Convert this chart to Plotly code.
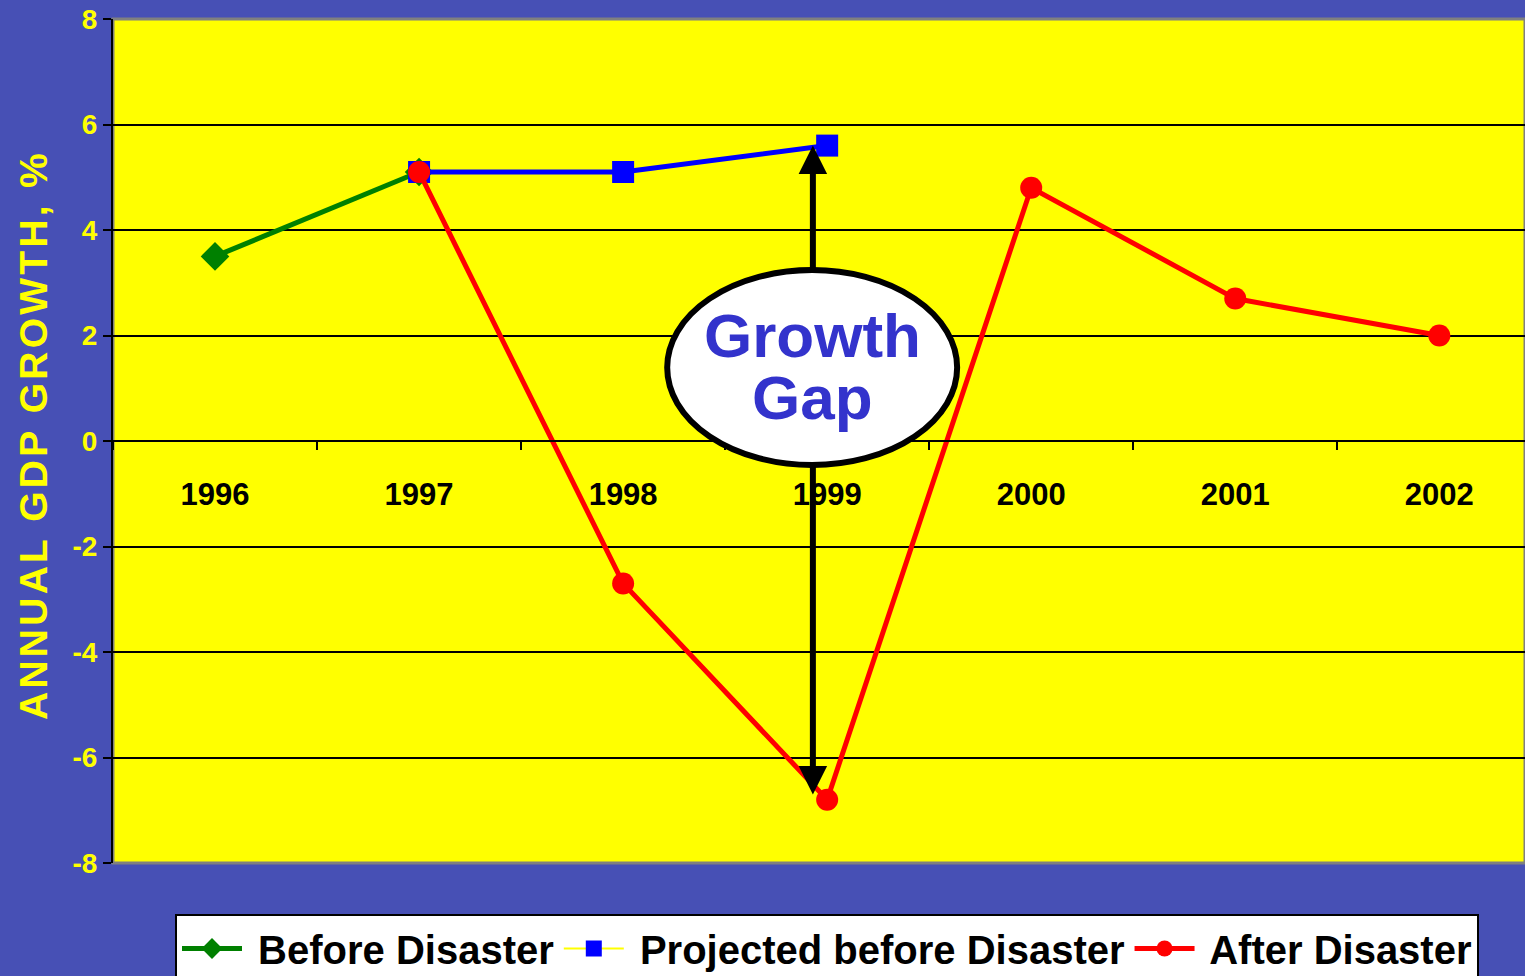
import plotly.graph_objects as go

years = ["1996", "1997", "1998", "1999", "2000", "2001", "2002"]
before_x = ["1996", "1997"]
before_y = [3.5, 5.1]
proj_x = ["1997", "1998", "1999"]
proj_y = [5.1, 5.1, 5.6]
after_x = ["1997", "1998", "1999", "2000", "2001", "2002"]
after_y = [5.1, -2.7, -6.8, 4.8, 2.7, 2.0]
y_ticks = [-8, -6, -4, -2, 0, 2, 4, 6, 8]

BG = "#4750B5"
ARIAL = "Arial, Liberation Sans"
LEG_FONT = dict(family=ARIAL, size=40, color="black", weight="bold")

# ellipse extent in data units
ell_x0, ell_x1, ell_y0, ell_y1 = 2.216, 3.637, -0.455, 3.24
gap_x = 2.93

fig = go.Figure()
fig.add_trace(go.Scatter(x=before_x, y=before_y, mode="lines+markers", name=" Before Disaster",
                         line=dict(color="#008000", width=5),
                         marker=dict(symbol="diamond", size=22, color="#008000")))
fig.add_trace(go.Scatter(x=proj_x, y=proj_y, mode="lines+markers", name=" Projected before Disaster",
                         line=dict(color="#0000FF", width=5), showlegend=False,
                         marker=dict(symbol="square", size=22, color="#0000FF")))
# legend proxy for projected series (legend shows yellow line with blue square)
fig.add_trace(go.Scatter(x=[None], y=[None], mode="lines+markers", name=" Projected before Disaster",
                         line=dict(color="#FFFF00", width=2),
                         marker=dict(symbol="square", size=22, color="#0000FF")))
fig.add_trace(go.Scatter(x=after_x, y=after_y, mode="lines+markers", name=" After Disaster",
                         line=dict(color="#FF0000", width=5),
                         marker=dict(symbol="circle", size=22, color="#FF0000")))

# growth-gap arrow, split so the ellipse hides its middle
fig.add_annotation(x=gap_x, y=proj_y[2], ax=gap_x, ay=ell_y1, xref="x", yref="y",
                   axref="x", ayref="y", showarrow=True, arrowhead=2, arrowwidth=6,
                   arrowsize=0.95, arrowcolor="black", text="")
fig.add_annotation(x=gap_x, y=after_y[2] + 0.1, ax=gap_x, ay=ell_y0, xref="x", yref="y",
                   axref="x", ayref="y", showarrow=True, arrowhead=2, arrowwidth=6,
                   arrowsize=0.95, arrowcolor="black", text="")

fig.add_shape(type="circle", xref="x", yref="y", x0=ell_x0, x1=ell_x1, y0=ell_y0, y1=ell_y1,
              fillcolor="white", line=dict(color="black", width=6), layer="above")
fig.add_annotation(x=gap_x, y=2.0, xref="x", yref="y", text="Growth", showarrow=False,
                   font=dict(family=ARIAL, size=62, color="#3333CC", weight="bold"))
fig.add_annotation(x=gap_x, y=0.82, xref="x", yref="y", text="Gap", showarrow=False,
                   font=dict(family=ARIAL, size=62, color="#3333CC", weight="bold"))

fig.add_annotation(xref="x domain", yref="y domain",
                   x=(33 - 113) / 1412, y=1 - (437 - 19) / 844,
                   xanchor="center", yanchor="middle",
                   text="\u200a".join("ANNUAL GDP GROWTH, %"),
                   showarrow=False, textangle=-90,
                   font=dict(family=ARIAL, size=39, color="#FFFF00", weight="bold"))

fig.add_shape(type="rect", xref="paper", yref="paper", x0=0, x1=1, y0=0, y1=1,
              line=dict(color="#808080", width=3), layer="below")

fig.update_layout(
    width=1525, height=976,
    margin=dict(l=113, r=0, t=19, b=113, autoexpand=False),
    paper_bgcolor=BG, plot_bgcolor="#FFFF00",
    xaxis=dict(type="category", categoryarray=years, categoryorder="array",
               range=[-0.5, 6.42], anchor="free", position=0.5,
               showline=True, linecolor="black", linewidth=2,
               ticks="outside", tickson="boundaries", ticklen=8, tickwidth=2, tickcolor="black",
               showgrid=False, ticklabelstandoff=26,
               tickfont=dict(family=ARIAL, size=31, color="black", weight="bold")),
    yaxis=dict(range=[-8, 8], tickvals=y_ticks, ticktext=[str(v) for v in y_ticks],
               showgrid=True, gridcolor="black", gridwidth=1.5,
               zeroline=False, showline=True, linecolor="black", linewidth=2,
               ticks="outside", ticklen=8, tickwidth=2, tickcolor="black",
               tickfont=dict(family=ARIAL, size=28, color="#FFFF00", weight="bold")),
    legend=dict(orientation="h", xref="container", yref="container",
                x=175 / 1525, y=1 - 914 / 976, xanchor="left", yanchor="top",
                bgcolor="white", bordercolor="black", borderwidth=2,
                font=LEG_FONT, itemwidth=60),
    showlegend=True,
)

fig.write_html("out.html")
